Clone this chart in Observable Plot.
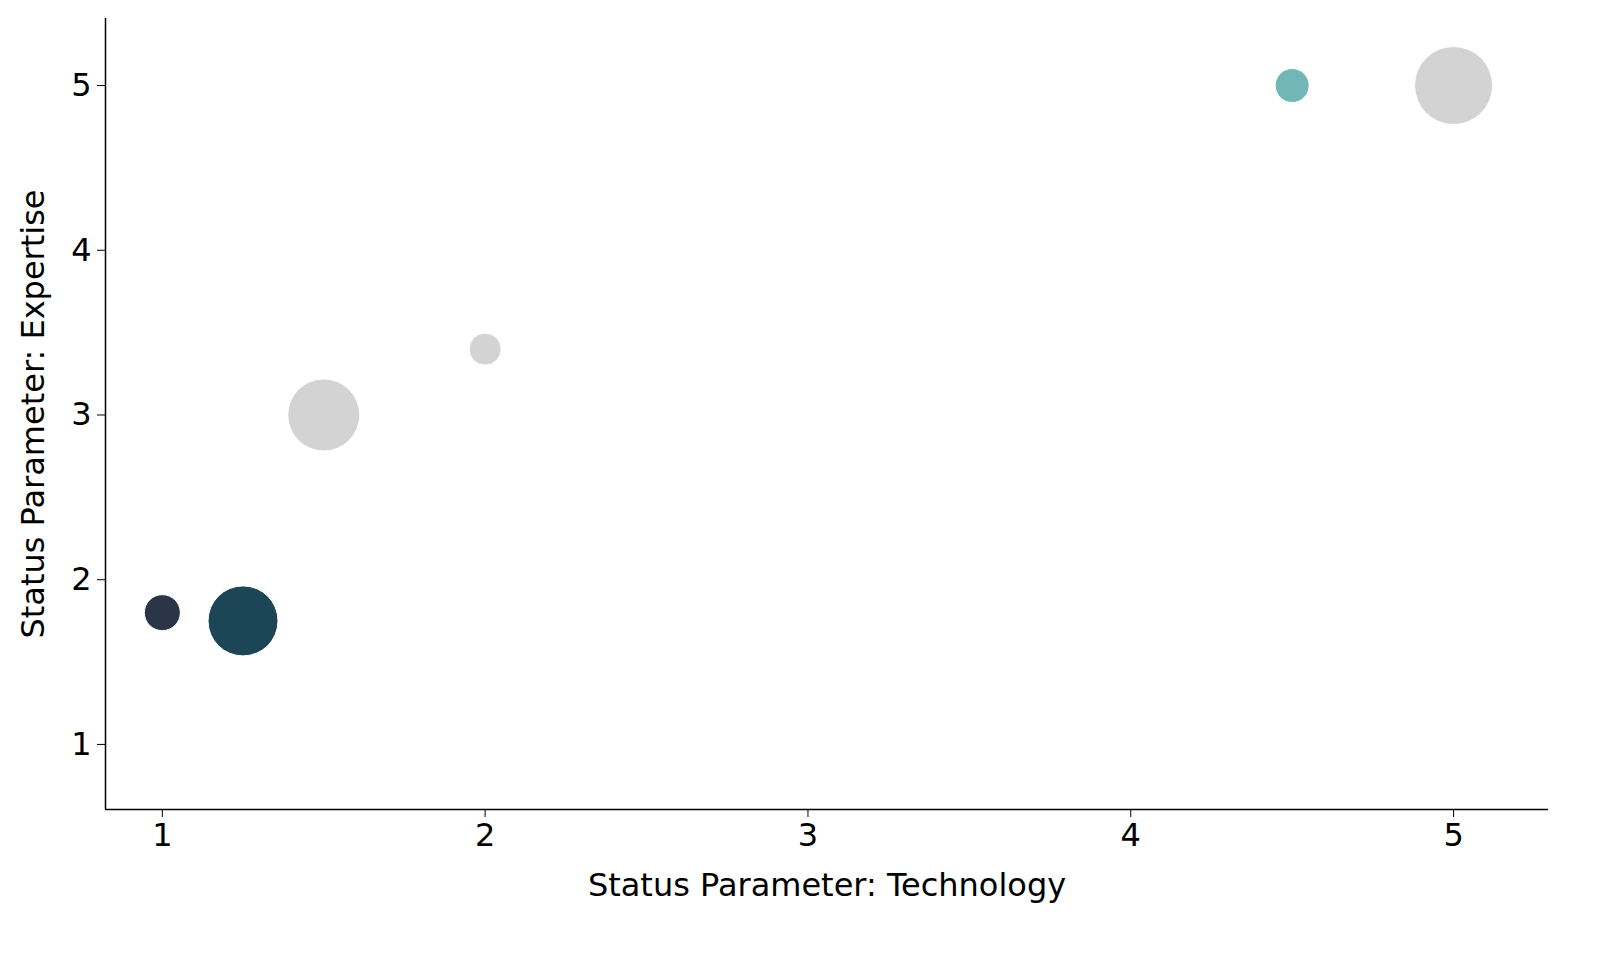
<!DOCTYPE html>
<html>
<head>
<script src="https://cdn.jsdelivr.net/npm/d3@7"></script>
<script src="https://cdn.jsdelivr.net/npm/@observablehq/plot@0.6"></script>
<style>html,body{margin:0;background:#fff;overflow:hidden;font-family:"DejaVu Sans",sans-serif;} svg{display:block;}</style>
</head>
<body>
<div id="chart"></div>
<script>
const technology = [1, 1.25, 1.5, 2, 4.5, 5];
const expertise = [1.8, 1.75, 3.0, 3.4, 5.0, 5.0];
const radius = [18, 35, 36, 16, 17, 39];
const colors = ["#2a3547", "#1c4556", "#d3d3d3", "#d3d3d3", "#72b6b8", "#d3d3d3"];

const data = technology.map((t, i) => ({t, e: expertise[i], r: radius[i], c: colors[i]}));
const xd = [0.824, 5.294], yd = [0.605, 5.407];

const p = Plot.plot({
  width: 1615, height: 955,
  marginLeft: 105, marginTop: 18, marginRight: 67, marginBottom: 146,
  style: {fontFamily: "DejaVu Sans, sans-serif", fontSize: "31px", color: "#000"},
  x: {domain: xd},
  y: {domain: yd},
  r: {type: "identity"},
  marks: [
    Plot.axisX({ticks: [1,2,3,4,5], tickSize: 8, tickPadding: 6, tickFormat: d3.format("d"),
      label: "Status Parameter: Technology", labelAnchor: "center", labelArrow: "none", labelOffset: 86, fontSize: 32}),
    Plot.axisY({ticks: [1,2,3,4,5], tickSize: 8, tickPadding: 6, tickFormat: d3.format("d"),
      label: "Status Parameter: Expertise", labelAnchor: "center", labelArrow: "none", labelOffset: 84, fontSize: 32}),
    Plot.ruleX([xd[0]], {stroke: "#000", strokeWidth: 1.5}),
    Plot.ruleY([yd[0]], {stroke: "#000", strokeWidth: 1.5}),
    Plot.dot(data, {x: "t", y: "e", r: "r", fill: "c", stroke: "#fff", strokeWidth: 1, fillOpacity: 1})
  ]
});
document.getElementById("chart").append(p);
</script>
</body>
</html>
